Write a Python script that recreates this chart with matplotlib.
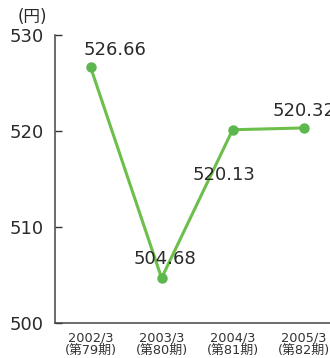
import matplotlib
matplotlib.use("Agg")
import matplotlib.pyplot as plt

plt.rcParams['font.family'] = ['DejaVu Sans', 'Noto Sans CJK JP']

periods = ["2002/3\n(第79期)", "2003/3\n(第80期)", "2004/3\n(第81期)", "2005/3\n(第82期)"]
values = [526.66, 504.68, 520.13, 520.32]
value_labels = ["526.66", "504.68", "520.13", "520.32"]
yticks = [500, 510, 520, 530]

# label offsets (points) from each marker to the label's baseline centre
offsets = [(17.6, 8.6), (2.5, 10), (-6.5, -36.5), (0.3, 8.6)]

green = "#6cbf4a"
dot = "#5cb84e"

fig = plt.figure(figsize=(3.30, 3.58), dpi=100)
ax = fig.add_axes([55 / 330, 35 / 358, 275 / 330, 288 / 358])

x = list(range(len(values)))
ax.plot(x, values, color=green, lw=2.2, marker="o", ms=6.5,
        markerfacecolor=dot, markeredgecolor=dot, zorder=3)

for xi, v, lab, off in zip(x, values, value_labels, offsets):
    ax.annotate(lab, (xi, v), xytext=off, textcoords="offset points",
                ha="center", va="baseline", fontsize=13, color="#2a2a2a",
                annotation_clip=False, zorder=4)

ax.set_xlim(-0.5, 3.37)
ax.set_ylim(500, 530)
ax.set_yticks(yticks)
ax.set_yticklabels([str(t) for t in yticks], fontsize=13, color="#2a2a2a")
ax.set_xticks(x)
ax.set_xticklabels(periods, fontsize=9.3, color="#333333", linespacing=0.95)

ax.tick_params(axis="y", direction="in", length=5, width=1, pad=8, color="#333333")
ax.tick_params(axis="x", length=0, pad=6)
for s in ("top", "right"):
    ax.spines[s].set_visible(False)
for s in ("left", "bottom"):
    ax.spines[s].set_color("#444444")
    ax.spines[s].set_linewidth(1.1)

fig.text(32 / 330, 1 - 17 / 358, "(円)", fontsize=12, color="#2a2a2a",
         va="center", ha="center")

fig.savefig("out.png", dpi=100)
